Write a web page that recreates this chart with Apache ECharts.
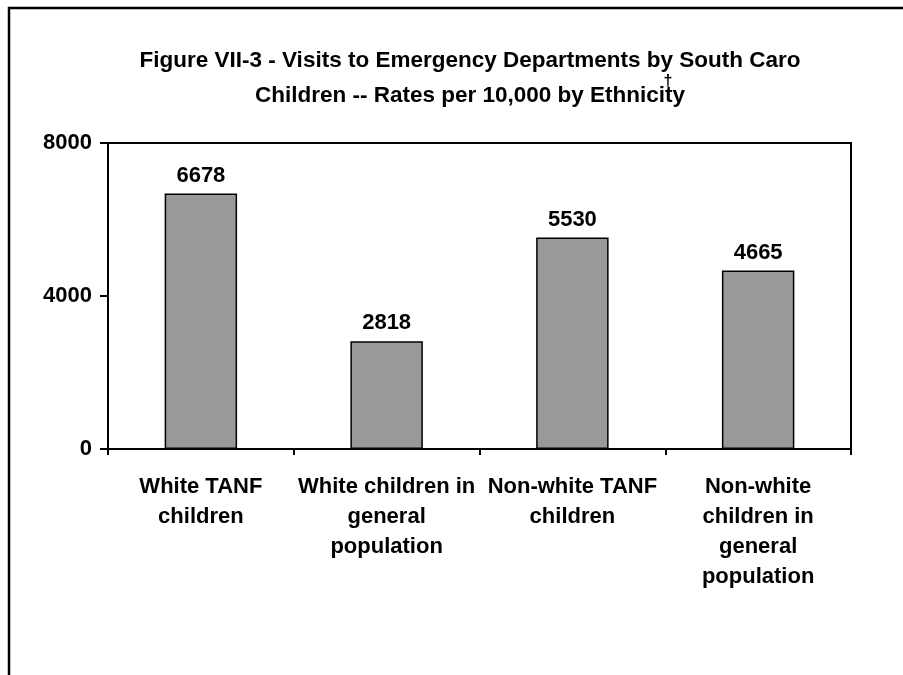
<!DOCTYPE html>
<html>
<head>
<meta charset="utf-8">
<script src="https://cdn.jsdelivr.net/npm/echarts@6/dist/echarts.min.js"></script>
<style>
  html, body { margin: 0; padding: 0; background: #fff; }
  #chart { width: 903px; height: 675px; }
</style>
</head>
<body>
<div id="chart"></div>
<script>
// Emergency department visit rates per 10,000 children, by group
const categories = [
  'White TANF\nchildren',
  'White children in\ngeneral\npopulation',
  'Non-white TANF\nchildren',
  'Non-white\nchildren in\ngeneral\npopulation'
];
const visitRates = [6678, 2818, 5530, 4665];
const yTicks = [0, 4000, 8000];

const titleLines = [
  'Figure VII-3 - Visits to Emergency Departments by South Caro',
  'Children -- Rates per 10,000 by Ethnicity'
];

const FONT = '"Liberation Sans", Arial, sans-serif';
const FS = 22;

const chart = echarts.init(document.getElementById('chart'), null, { renderer: 'canvas' });

chart.setOption({
  animation: false,
  backgroundColor: '#ffffff',
  title: {
    text: titleLines.join('\n'),
    left: 465,
    top: 38,
    textAlign: 'center',
    textStyle: {
      fontFamily: FONT,
      fontWeight: 'bold',
      fontSize: 22.5,
      lineHeight: 35,
      color: '#000'
    }
  },
  grid: {
    left: 108,
    right: 52,
    top: 143,
    bottom: 226,
    show: true,
    borderColor: '#000',
    borderWidth: 2,
    containLabel: false
  },
  xAxis: {
    type: 'category',
    data: categories,
    axisLine: { show: true, lineStyle: { color: '#000', width: 2 } },
    axisTick: { show: true, alignWithLabel: false, length: 6, lineStyle: { color: '#000', width: 2 } },
    axisLabel: {
      interval: 0,
      margin: 23,
      color: '#000',
      fontFamily: FONT,
      fontWeight: 'bold',
      fontSize: FS,
      lineHeight: 30,
      align: 'center'
    }
  },
  yAxis: {
    type: 'value',
    min: yTicks[0],
    max: yTicks[yTicks.length - 1],
    interval: yTicks[1] - yTicks[0],
    splitLine: { show: false },
    axisLine: { show: true, lineStyle: { color: '#000', width: 2 } },
    axisTick: { show: true, length: 8, lineStyle: { color: '#000', width: 2 } },
    axisLabel: {
      margin: 16,
      color: '#000',
      fontFamily: FONT,
      fontWeight: 'bold',
      fontSize: FS,
      formatter: (v) => String(v)
    }
  },
  series: [{
    type: 'bar',
    data: visitRates,
    barWidth: '39%',
    itemStyle: {
      color: '#999999',
      borderColor: '#000',
      borderWidth: 1.5
    },
    label: {
      show: true,
      position: 'top',
      distance: 7,
      color: '#000',
      fontFamily: FONT,
      fontWeight: 'bold',
      fontSize: FS
    }
  }],
  graphic: [
    {
      type: 'rect',
      shape: { x: 9, y: 8, width: 920, height: 700 },
      style: { fill: 'none', stroke: '#000', lineWidth: 2.5 },
      silent: true,
      z: 100
    },
    {
      type: 'text',
      x: 668,
      y: 74,
      style: {
        text: '\u2020',
        align: 'center',
        verticalAlign: 'top',
        fontFamily: FONT,
        fontWeight: 'bold',
        fontSize: 16,
        fill: '#000'
      },
      z: 100
    }
  ]
});
</script>
</body>
</html>
